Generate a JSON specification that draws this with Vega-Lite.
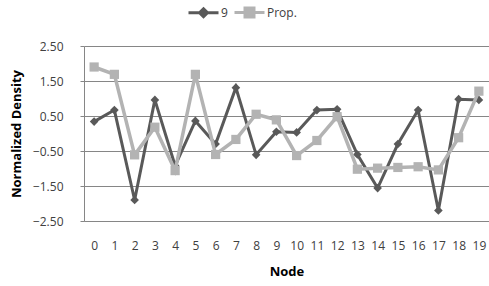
{
  "$schema": "https://vega.github.io/schema/vega-lite/v6.json",
  "autosize": {"type": "none"},
  "padding": {"left": 84, "top": 46, "right": 0, "bottom": 65},
  "width": 405,
  "height": 175,
  "background": "white",
  "config": {
    "view": {"stroke": null},
    "font": "Open Sans"
  },
  "data": {
    "values": [
      {"node": 0, "series": "9", "value": 0.34},
      {"node": 1, "series": "9", "value": 0.67},
      {"node": 2, "series": "9", "value": -1.9},
      {"node": 3, "series": "9", "value": 0.96},
      {"node": 4, "series": "9", "value": -0.92},
      {"node": 5, "series": "9", "value": 0.36},
      {"node": 6, "series": "9", "value": -0.3},
      {"node": 7, "series": "9", "value": 1.31},
      {"node": 8, "series": "9", "value": -0.61},
      {"node": 9, "series": "9", "value": 0.05},
      {"node": 10, "series": "9", "value": 0.03},
      {"node": 11, "series": "9", "value": 0.67},
      {"node": 12, "series": "9", "value": 0.69},
      {"node": 13, "series": "9", "value": -0.6},
      {"node": 14, "series": "9", "value": -1.56},
      {"node": 15, "series": "9", "value": -0.3},
      {"node": 16, "series": "9", "value": 0.67},
      {"node": 17, "series": "9", "value": -2.2},
      {"node": 18, "series": "9", "value": 0.98},
      {"node": 19, "series": "9", "value": 0.96},
      {"node": 0, "series": "Prop.", "value": 1.9},
      {"node": 1, "series": "Prop.", "value": 1.69},
      {"node": 2, "series": "Prop.", "value": -0.61},
      {"node": 3, "series": "Prop.", "value": 0.18},
      {"node": 4, "series": "Prop.", "value": -1.06},
      {"node": 5, "series": "Prop.", "value": 1.69},
      {"node": 6, "series": "Prop.", "value": -0.6},
      {"node": 7, "series": "Prop.", "value": -0.17},
      {"node": 8, "series": "Prop.", "value": 0.55},
      {"node": 9, "series": "Prop.", "value": 0.39},
      {"node": 10, "series": "Prop.", "value": -0.63},
      {"node": 11, "series": "Prop.", "value": -0.2},
      {"node": 12, "series": "Prop.", "value": 0.48},
      {"node": 13, "series": "Prop.", "value": -1.02},
      {"node": 14, "series": "Prop.", "value": -0.99},
      {"node": 15, "series": "Prop.", "value": -0.97},
      {"node": 16, "series": "Prop.", "value": -0.95},
      {"node": 17, "series": "Prop.", "value": -1.04},
      {"node": 18, "series": "Prop.", "value": -0.12},
      {"node": 19, "series": "Prop.", "value": 1.21}
    ]
  },
  "encoding": {
    "x": {
      "field": "node", "type": "ordinal",
      "scale": {"type": "point", "padding": 0.5},
      "axis": {
        "title": "Node", "labelAngle": 0, "ticks": false, "tickSize": 0,
        "grid": false, "domain": true, "domainColor": "#868686", "domainWidth": 1,
        "labelPadding": 19, "labelFontSize": 12, "labelColor": "#404040",
        "titleFontSize": 13, "titleFontWeight": "bold", "titleColor": "#000000",
        "titlePadding": 14
      }
    },
    "y": {
      "field": "value", "type": "quantitative",
      "scale": {"domain": [-2.5, 2.5], "nice": false, "zero": false},
      "axis": {
        "title": "Normalized Density",
        "values": [-2.5, -1.5, -0.5, 0.5, 1.5, 2.5],
        "format": ".2f",
        "grid": true, "gridColor": "#868686", "gridWidth": 1,
        "domain": true, "domainColor": "#868686",
        "ticks": true, "tickSize": 4, "tickColor": "#868686",
        "labelPadding": 17, "labelFontSize": 12, "labelColor": "#404040",
        "titleFontSize": 13, "titleFontWeight": "bold", "titleColor": "#000000",
        "titlePadding": 9
      }
    },
    "color": {
      "field": "series", "type": "nominal",
      "scale": {"domain": ["9", "Prop."], "range": ["#595959", "#b3b3b3"]},
      "legend": {
        "orient": "none", "legendX": 103, "legendY": -40,
        "direction": "horizontal", "title": null,
        "symbolSize": 100, "labelOffset": 21, "columnPadding": 0,
        "labelFontSize": 12, "labelColor": "#404040",
        "encode": {
          "symbols": {
            "update": {
              "shape": {"signal": "datum.value === '9' ? 'M-1,0H5M2,-0.8L2.8,0L2,0.8L1.2,0Z' : 'M-1,0H5M1.1,-0.9H2.9V0.9H1.1Z'"},
              "fill": {"scale": "color", "field": "value"},
              "stroke": {"scale": "color", "field": "value"},
              "strokeWidth": {"value": 3},
              "opacity": {"value": 1},
              "fillOpacity": {"value": 1}
            }
          }
        }
      }
    }
  },
  "layer": [
    {
      "transform": [{"filter": "datum.series === '9'"}],
      "mark": {"type": "line", "strokeWidth": 3}
    },
    {
      "transform": [{"filter": "datum.series === '9'"}],
      "mark": {"type": "point", "shape": "diamond", "filled": true, "size": 75, "opacity": 1}
    },
    {
      "transform": [{"filter": "datum.series === 'Prop.'"}],
      "mark": {"type": "line", "strokeWidth": 3.5}
    },
    {
      "transform": [{"filter": "datum.series === 'Prop.'"}],
      "mark": {"type": "point", "shape": "square", "filled": true, "size": 85, "opacity": 1}
    }
  ]
}
